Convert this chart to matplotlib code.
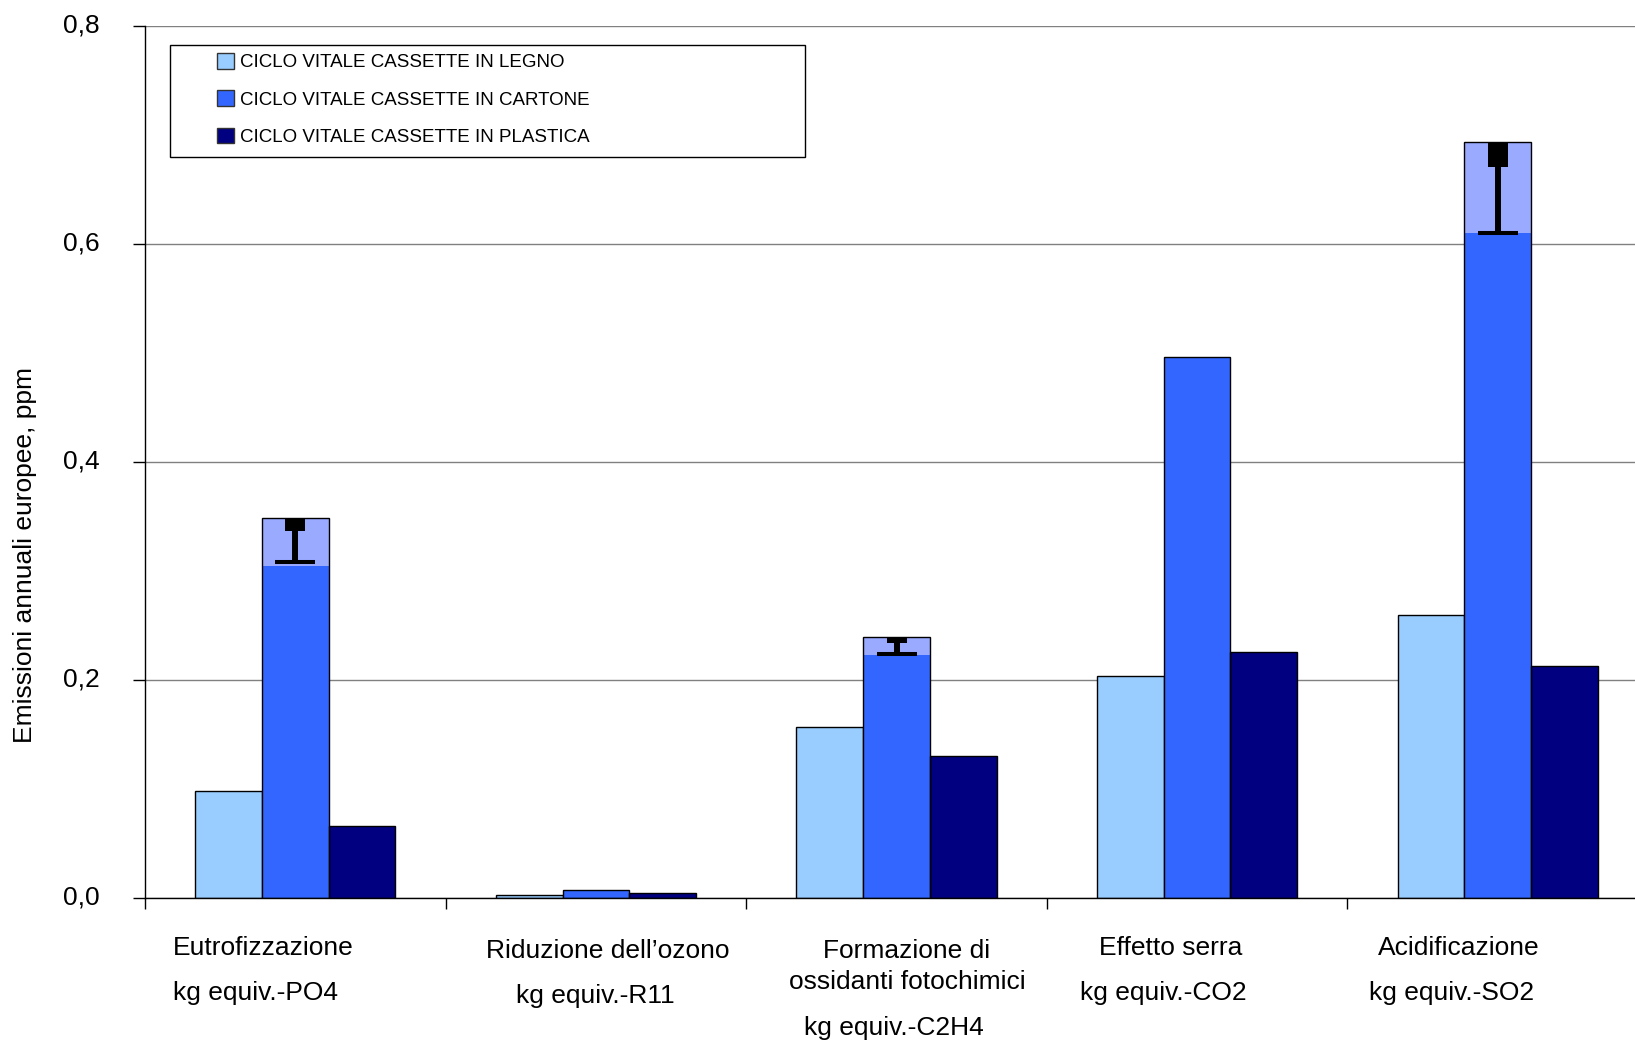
import numpy as np
import matplotlib
matplotlib.use("Agg")
import matplotlib.pyplot as plt
from matplotlib.patches import Patch, Rectangle
from matplotlib.transforms import ScaledTranslation

plt.rcParams['font.family'] = ['Liberation Sans', 'DejaVu Sans']

# ---- data ----
cat_lines = [
    ["Eutrofizzazione", "kg equiv.-PO4"],
    ["Riduzione dell\u2019ozono", "kg equiv.-R11"],
    ["Formazione di", "ossidanti fotochimici", "kg equiv.-C2H4"],
    ["Effetto serra", "kg equiv.-CO2"],
    ["Acidificazione", "kg equiv.-SO2"],
]
series_names = ["CICLO VITALE CASSETTE IN LEGNO",
                "CICLO VITALE CASSETTE IN CARTONE",
                "CICLO VITALE CASSETTE IN PLASTICA"]
legno = [0.098, 0.003, 0.157, 0.204, 0.260]
cartone = [0.305, 0.007, 0.223, 0.496, 0.610]
cartone_top = [0.349, 0.007, 0.239, 0.496, 0.694]
plastica = [0.066, 0.005, 0.130, 0.226, 0.213]
err_low = [0.308, np.nan, 0.224, np.nan, 0.610]
err_block = [0.012, np.nan, 0.005, np.nan, 0.023]
yticks = [0.0, 0.2, 0.4, 0.6, 0.8]
ytick_labels = ["0,0", "0,2", "0,4", "0,6", "0,8"]
ylabel = "Emissioni annuali europee, ppm"

# ---- style ----
c_light = '#99CCFF'
c_mid = '#3366FF'
c_dark = '#000080'
c_over = '#99AAFF'
W, H = 1635, 1042

fig = plt.figure(figsize=(W / 100, H / 100), dpi=100)
ax = fig.add_axes([145 / W, 144 / H, 1503 / W, 872 / H])

x = np.arange(len(cat_lines))
bw = 0.222

ax.bar(x - bw, legno, bw, color=c_light, edgecolor='black', linewidth=1, zorder=2)
ax.bar(x, cartone_top, bw, color=c_over, linewidth=0, zorder=2)
ax.bar(x, cartone, bw, color=c_mid, linewidth=0, zorder=2)
ax.bar(x, cartone_top, bw, facecolor='none', edgecolor='black', linewidth=1, zorder=3)
ax.bar(x + bw, plastica, bw, color=c_dark, edgecolor='black', linewidth=1, zorder=2)

top = np.array(cartone_top)
low = np.array(err_low)
blk = np.array(err_block)
m = ~np.isnan(low)
# lower-only error bars: stem, bottom cap, thick block at top
ax.vlines(x[m], low[m], top[m], colors='black', linewidth=4.3, capstyle='butt', zorder=4)
ax.plot(x[m], low[m], linestyle='none', marker='_', markersize=28.8,
        markeredgewidth=2.9, color='black', zorder=4)
ax.vlines(x[m], top[m] - blk[m], top[m], colors='black', linewidth=14.4,
          capstyle='butt', zorder=5)

ax.set_xlim(-0.5, len(cat_lines) - 0.5)
ax.set_ylim(0, 0.8)
ax.set_yticks(yticks)
ax.set_yticklabels(ytick_labels, fontsize=19)
ax.set_xticks(np.arange(-0.5, len(cat_lines), 1.0))
ax.set_xticklabels([])
ax.tick_params(axis='y', length=8.6, width=1, pad=24, direction='out')
ax.tick_params(axis='x', length=8, width=1, direction='out')
off = ScaledTranslation(0, 3 / 100, fig.dpi_scale_trans)
for lbl in ax.get_yticklabels():
    lbl.set_transform(lbl.get_transform() + off)
ax.yaxis.grid(True, color='#808080', linewidth=1)
ax.set_axisbelow(True)
for s in ['top', 'right']:
    ax.spines[s].set_visible(False)
for s in ['left', 'bottom']:
    ax.spines[s].set_color('black')
    ax.spines[s].set_linewidth(1)
ax.spines['bottom'].set_zorder(6)

# category labels (text layout)
label_pos = [
    [(173, 948, 'left'), (173, 993, 'left')],
    [(608, 951, 'center'), (595, 996, 'center')],
    [(907, 951, 'center'), (907, 982, 'center'), (894, 1028, 'center')],
    [(1171, 948, 'center'), (1163, 993, 'center')],
    [(1459, 948, 'center'), (1452, 993, 'center')],
]
for lines, poss in zip(cat_lines, label_pos):
    for txt, (px, py, ha) in zip(lines, poss):
        fig.text(px / W, 1 - py / H, txt, ha=ha, va='center', fontsize=19)

fig.text(25 / W, 1 - 555 / H, ylabel, rotation=90, ha='center', va='center', fontsize=19)

# legend
handles = [Patch(facecolor=c, edgecolor='#333333', linewidth=1) for c in (c_light, c_mid, c_dark)]
fig.legend(handles, series_names, loc='upper left', bbox_to_anchor=(217 / W, 1 - 53 / H),
           frameon=False, fontsize=13.5, handlelength=0.9, handleheight=0.9,
           handletextpad=0.35, labelspacing=1.02, borderpad=0, borderaxespad=0)
fig.add_artist(Rectangle((170 / W, 1 - 157 / H), (805 - 170) / W, (157 - 45) / H,
                         transform=fig.transFigure, fill=False, edgecolor='black', linewidth=1))

fig.savefig('out.png', dpi=100)
